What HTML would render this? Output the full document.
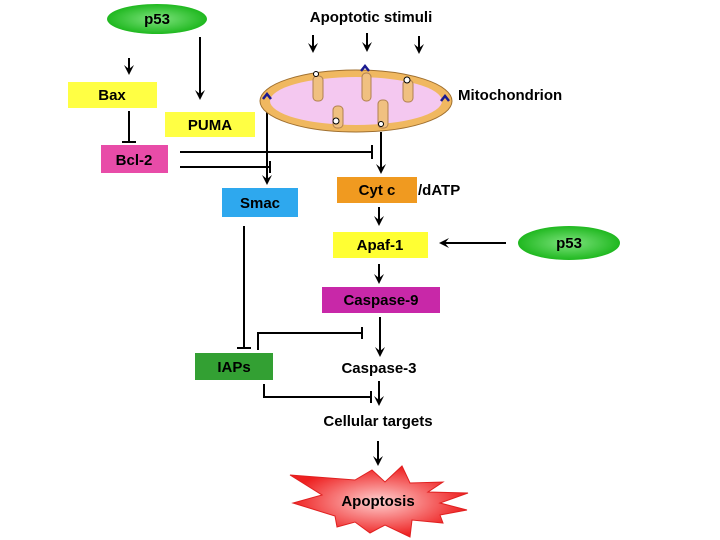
<!DOCTYPE html>
<html><head><meta charset="utf-8"><style>
body{margin:0;background:#fff}
svg{display:block}
text{font-family:"Liberation Sans",Arial,sans-serif;font-weight:bold;font-size:15px;fill:#000}
</style></head><body>
<svg width="720" height="540" viewBox="0 0 720 540" xmlns="http://www.w3.org/2000/svg">
<defs>
<radialGradient id="g" cx="50%" cy="50%" r="50%"><stop offset="0" stop-color="#7fe37f"/><stop offset="1" stop-color="#1fb81f"/></radialGradient>
<radialGradient id="r" cx="50%" cy="50%" r="50%"><stop offset="0" stop-color="#ffd0d0"/><stop offset="1" stop-color="#ee2020"/></radialGradient>
</defs>
<g stroke="#000" stroke-width="2" fill="none">
<line x1="129" y1="58" x2="129" y2="70"/>
<line x1="200" y1="37" x2="200" y2="95"/>
<line x1="313" y1="35" x2="313" y2="48"/>
<line x1="367" y1="33" x2="367" y2="47"/>
<line x1="419" y1="36" x2="419" y2="49"/>
<line x1="267" y1="100" x2="267" y2="180"/>
<line x1="381" y1="132" x2="381" y2="169"/>
<line x1="379" y1="207" x2="379" y2="221"/>
<line x1="506" y1="243" x2="445" y2="243"/>
<line x1="379" y1="264" x2="379" y2="279"/>
<line x1="380" y1="317" x2="380" y2="352"/>
<line x1="379" y1="381" x2="379" y2="401"/>
<line x1="378" y1="441" x2="378" y2="461"/>
<line x1="129" y1="111" x2="129" y2="142"/><line x1="122" y1="142" x2="136" y2="142"/>
<line x1="180" y1="152" x2="372" y2="152"/><line x1="372" y1="145" x2="372" y2="159"/>
<line x1="180" y1="167" x2="270" y2="167"/><line x1="270" y1="161" x2="270" y2="173"/>
<line x1="244" y1="226" x2="244" y2="348"/><line x1="237" y1="348" x2="251" y2="348"/>
<polyline points="258,350 258,333 362,333"/><line x1="362" y1="327" x2="362" y2="339"/>
<polyline points="264,384 264,397 371,397"/><line x1="371" y1="391" x2="371" y2="403"/>
</g>
<g fill="#000">
<polygon points="124,65 129,75 134,65 129,69"/>
<polygon points="195,90 200,100 205,90 200,94"/>
<polygon points="308,43 313,53 318,43 313,47"/>
<polygon points="362,42 367,52 372,42 367,46"/>
<polygon points="414,44 419,54 424,44 419,48"/>
<polygon points="262,175 267,185 272,175 267,179"/>
<polygon points="376,164 381,174 386,164 381,168"/>
<polygon points="374,216 379,226 384,216 379,220"/>
<polygon points="449,238 439,243 449,248 445,243"/>
<polygon points="374,274 379,284 384,274 379,278"/>
<polygon points="375,347 380,357 385,347 380,351"/>
<polygon points="374,396 379,406 384,396 379,400"/>
<polygon points="373,456 378,466 383,456 378,460"/>
</g>
<ellipse cx="157" cy="19" rx="50" ry="15" fill="url(#g)"/>
<text x="157" y="24" text-anchor="middle">p53</text>
<ellipse cx="569" cy="243" rx="51" ry="17" fill="url(#g)"/>
<text x="569" y="248" text-anchor="middle">p53</text>
<text x="371" y="22" text-anchor="middle">Apoptotic stimuli</text>
<ellipse cx="356" cy="101" rx="96" ry="31" fill="#f0b860" stroke="#a07030"/>
<ellipse cx="356" cy="101" rx="86" ry="24" fill="#f4c8f0"/>
<g fill="#f0c080" stroke="#b08050" stroke-width="1">
<rect x="313" y="76" width="10" height="25" rx="4"/><rect x="362" y="73" width="9" height="28" rx="4"/><rect x="403" y="80" width="10" height="22" rx="4"/>
<rect x="333" y="106" width="10" height="22" rx="4"/><rect x="378" y="100" width="10" height="28" rx="4"/>
</g>
<g fill="#fff" stroke="#000" stroke-width="1"><circle cx="316" cy="74" r="2.5"/><circle cx="407" cy="80" r="3"/><circle cx="336" cy="121" r="3"/><circle cx="381" cy="124" r="2.5"/></g>
<g stroke="#1a1a90" stroke-width="2.5" fill="none"><polyline points="263,99 267,94 271,99"/><polyline points="361,71 365,66 369,71"/><polyline points="441,101 445,96 449,101"/></g>
<text x="458" y="100">Mitochondrion</text>
<rect x="68" y="82" width="89" height="26" fill="#ffff44"/><text x="112" y="100" text-anchor="middle">Bax</text>
<rect x="165" y="112" width="90" height="25" fill="#ffff44"/><text x="210" y="130" text-anchor="middle">PUMA</text>
<rect x="101" y="145" width="67" height="28" fill="#e84ca8"/><text x="134" y="165" text-anchor="middle">Bcl-2</text>
<rect x="222" y="188" width="76" height="29" fill="#2ea8ee"/><text x="260" y="208" text-anchor="middle">Smac</text>
<rect x="337" y="177" width="80" height="26" fill="#f09a20"/><text x="377" y="195" text-anchor="middle">Cyt c</text>
<text x="418" y="195">/dATP</text>
<rect x="333" y="232" width="95" height="26" fill="#ffff33"/><text x="380" y="250" text-anchor="middle">Apaf-1</text>
<rect x="322" y="287" width="118" height="26" fill="#c828a8"/><text x="381" y="305" text-anchor="middle">Caspase-9</text>
<rect x="195" y="353" width="78" height="27" fill="#33a033"/><text x="234" y="372" text-anchor="middle">IAPs</text>
<text x="379" y="373" text-anchor="middle">Caspase-3</text>
<text x="378" y="426" text-anchor="middle">Cellular targets</text>
<polygon points="290,475 355,480 372,470 385,482 402,466 410,483 443,482 428,492 468,493 440,503 467,510 440,515 443,523 412,520 410,537 385,525 370,533 355,522 337,527 335,516 293,503 322,495" fill="url(#r)" stroke="#e02020"/>
<text x="378" y="506" text-anchor="middle">Apoptosis</text>
</svg>
</body></html>
